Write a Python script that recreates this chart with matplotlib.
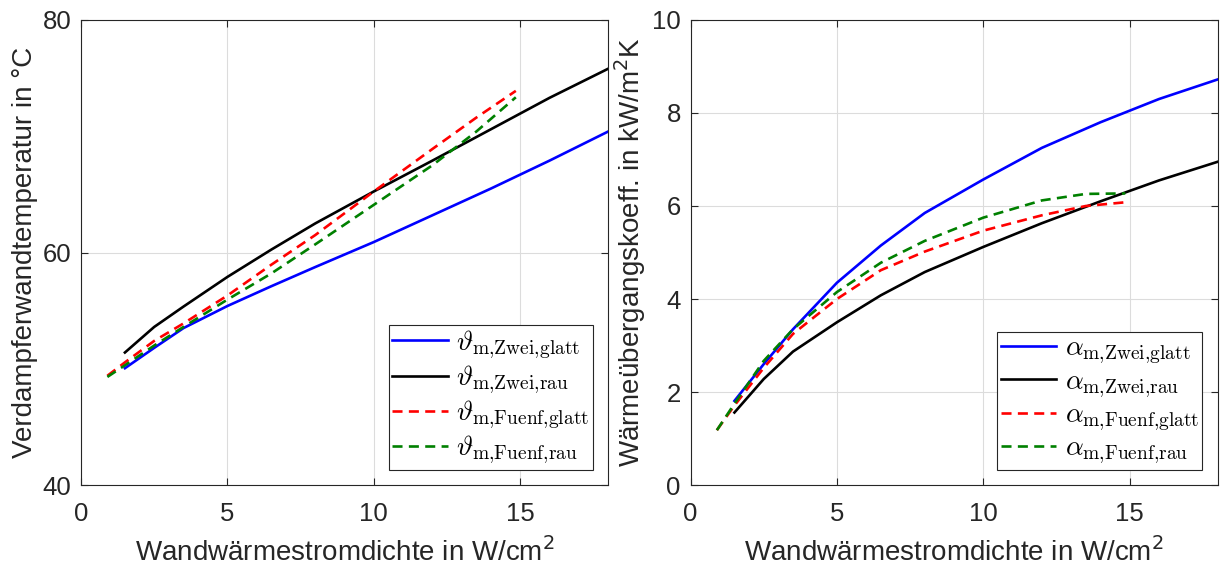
import matplotlib.pyplot as plt

# x-Werte (W/cm^2)
q_zwei = [1.5, 2.5, 3.5, 5.0, 6.5, 8.0, 10.0, 12.0, 14.0, 16.0, 18.0]
q_fuenf = [0.9, 1.5, 2.5, 3.5, 5.0, 6.5, 8.0, 10.0, 12.0, 13.5, 14.85]

# Verdampferwandtemperatur (°C)
T_zwei_glatt = [50.05, 51.8, 53.5, 55.4, 57.1, 58.75, 60.9, 63.2, 65.5, 67.9, 70.4]
T_zwei_rau = [51.4, 53.6, 55.35, 57.9, 60.25, 62.5, 65.25, 67.9, 70.6, 73.3, 75.8]
T_fuenf_glatt = [49.4, 50.55, 52.4, 53.9, 56.3, 58.95, 61.5, 65.25, 68.9, 71.6, 73.9]
T_fuenf_rau = [49.3, 50.3, 52.0, 53.6, 55.95, 58.2, 60.7, 64.1, 67.5, 70.4, 73.35]

# Wärmeübergangskoeffizient (kW/m^2K)
a_zwei_glatt = [1.81, 2.6, 3.35, 4.35, 5.15, 5.85, 6.57, 7.25, 7.8, 8.3, 8.72]
a_zwei_rau = [1.56, 2.28, 2.87, 3.5, 4.08, 4.58, 5.12, 5.63, 6.1, 6.55, 6.95]
a_fuenf_glatt = [1.18, 1.71, 2.52, 3.25, 4.0, 4.62, 5.02, 5.47, 5.8, 6.0, 6.08]
a_fuenf_rau = [1.18, 1.75, 2.67, 3.35, 4.15, 4.78, 5.25, 5.75, 6.12, 6.26, 6.27]

plt.rcParams['font.family'] = ['Liberation Sans', 'DejaVu Sans']
plt.rcParams['mathtext.fontset'] = 'cm'

axcol = '#262626'
lw = 1.9
green = (0, 0.5, 0)
dash = (3.8, 2.4)

fig = plt.figure(figsize=(12.2, 5.7), dpi=100)
ax1 = fig.add_axes([0.0664, 0.149, 0.432, 0.816])
ax2 = fig.add_axes([0.566, 0.149, 0.432, 0.816])


def style(ax, ylim, yticks, ylabel):
    ax.set_xlim(0, 18)
    ax.set_ylim(*ylim)
    ax.set_xticks([0, 5, 10, 15])
    ax.set_yticks(yticks)
    ax.grid(True, color='#dcdcdc', linewidth=0.8)
    ax.set_axisbelow(True)
    ax.tick_params(direction='in', top=True, right=True, labelsize=18.5,
                   colors=axcol, length=5)
    ax.tick_params(axis='x', pad=12)
    ax.tick_params(axis='y', pad=7)
    for s in ax.spines.values():
        s.set_color(axcol)
        s.set_linewidth(0.8)
    ax.set_xlabel('Wandwärmestromdichte in W/cm$^2$', fontsize=20,
                  color=axcol, labelpad=8, math_fontfamily='dejavusans')
    ax.set_ylabel(ylabel, fontsize=20, color=axcol, labelpad=3,
                  math_fontfamily='dejavusans')
    leg = ax.legend(loc='lower right', fontsize=20, fancybox=False, framealpha=1,
                    edgecolor=axcol, handlelength=2.0, handletextpad=0.3,
                    borderpad=0.12, labelspacing=0.1, borderaxespad=0.55)
    leg.get_frame().set_linewidth(0.8)


ax1.plot(q_zwei, T_zwei_glatt, color='b', lw=lw, label=r'$\vartheta_{\mathrm{m{,}Zwei{,}glatt}}$')
ax1.plot(q_zwei, T_zwei_rau, color='k', lw=lw, label=r'$\vartheta_{\mathrm{m{,}Zwei{,}rau}}$')
ax1.plot(q_fuenf, T_fuenf_glatt, '--', dashes=dash, color='r', lw=lw, label=r'$\vartheta_{\mathrm{m{,}Fuenf{,}glatt}}$')
ax1.plot(q_fuenf, T_fuenf_rau, '--', dashes=dash, color=green, lw=lw, label=r'$\vartheta_{\mathrm{m{,}Fuenf{,}rau}}$')
style(ax1, (40, 80), [40, 60, 80], 'Verdampferwandtemperatur in °C')

ax2.plot(q_zwei, a_zwei_glatt, color='b', lw=lw, label=r'$\alpha_{\mathrm{m{,}Zwei{,}glatt}}$')
ax2.plot(q_zwei, a_zwei_rau, color='k', lw=lw, label=r'$\alpha_{\mathrm{m{,}Zwei{,}rau}}$')
ax2.plot(q_fuenf, a_fuenf_glatt, '--', dashes=dash, color='r', lw=lw, label=r'$\alpha_{\mathrm{m{,}Fuenf{,}glatt}}$')
ax2.plot(q_fuenf, a_fuenf_rau, '--', dashes=dash, color=green, lw=lw, label=r'$\alpha_{\mathrm{m{,}Fuenf{,}rau}}$')
style(ax2, (0, 10), [0, 2, 4, 6, 8, 10], 'Wärmeübergangskoeff. in kW/m$^2$K')

fig.savefig('out.png', dpi=100)
